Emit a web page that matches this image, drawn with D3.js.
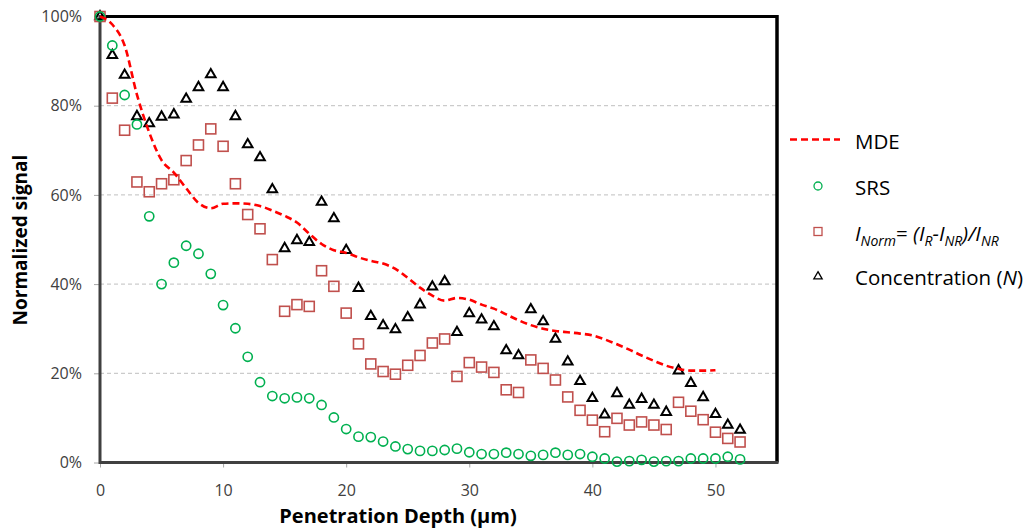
<!DOCTYPE html>
<html><head><meta charset="utf-8">
<script src="https://cdn.jsdelivr.net/npm/d3@7"></script>
<style>body{margin:0;background:#fff}svg{display:block}text{font-family:"Open Sans",sans-serif}</style>
</head><body><svg id="c" width="1034" height="532"></svg>
<script>
const depth = d3.range(0, 53);
const srs = [100,93.5,82.4,75.8,55.2,40,44.8,48.6,46.8,42.3,35.3,30.1,23.7,18,14.9,14.4,14.6,14.4,12.9,10.1,7.5,5.8,5.7,4.7,3.6,3.0,2.6,2.6,2.8,3.1,2.3,1.9,1.9,2.2,1.9,1.5,1.7,2.2,1.7,1.9,1.3,0.9,0.2,0.3,0.6,0.2,0.3,0.3,0.9,0.9,0.9,1.3,0.7];
const iNorm = [100,81.7,74.5,62.9,60.7,62.5,63.4,67.7,71.2,74.8,70.9,62.5,55.6,52.4,45.5,33.9,35.4,35,43,39.5,33.5,26.6,22.1,20.4,19.8,21.8,24,26.8,27.7,19.3,22.4,21.4,20.2,16.3,15.7,23,21.1,18.5,14.7,11.7,9.5,6.9,9.9,8.4,9.1,8.4,7.4,13.5,11.5,9.6,6.8,5.4,4.6];
const conc = [100,91.3,86.9,77.6,76,77.5,78,81.5,84.1,87,84.1,77.6,71.3,68.4,61.2,48,49.8,49.4,58.4,54.7,47.6,39.1,32.8,30.7,29.8,32.5,35.4,39.4,40.6,29.2,33.4,32,30.5,25.1,24,34.3,31.6,27.7,22.6,18.2,14.4,10.7,15.5,12.9,14.2,12.9,11.3,20.6,17.8,14.6,10.8,8.4,7.3];
const mdeDepth = d3.range(0, 51);
const mde = [100,98.2,93.5,82.5,74,67.8,65,61.5,58.2,57,58,58.1,58,57.5,56.5,55.3,53.8,51.3,49,47.6,47,46,45.2,44.6,43.4,41.4,39.2,37.4,36.3,36.9,36.5,35.4,34.5,33.2,31.9,30.8,30,29.5,29.2,28.9,28.5,27.6,26.5,25.3,24,22.8,21.7,21,20.6,20.6,20.7];
const xTicks = [0,10,20,30,40,50];
const yTicks = [0,20,40,60,80,100];

const svg = d3.select("#c");
const x = d3.scaleLinear().domain([0,55]).range([100,777]);
const y = d3.scaleLinear().domain([0,100]).range([462.5,16.5]);

// grid
svg.append("g").selectAll("line").data(yTicks.filter(v=>v>0&&v<100)).join("line")
  .attr("x1",x(0)).attr("x2",x(55)).attr("y1",d=>y(d)).attr("y2",d=>y(d))
  .attr("stroke","#bfbfbf").attr("stroke-width",1).attr("stroke-dasharray","4,3");

// axes
const yAxis = svg.append("g").attr("transform",`translate(${x(0)},0)`)
  .call(d3.axisLeft(y).tickValues(yTicks).tickFormat(d=>d+"%").tickSize(6).tickPadding(12));
const xAxis = svg.append("g").attr("transform",`translate(0,${y(0)})`)
  .call(d3.axisBottom(x).tickValues(xTicks).tickSize(5).tickPadding(17));
[yAxis,xAxis].forEach(a=>{
  a.select(".domain").remove();
  a.selectAll(".tick line").attr("stroke","#a6a6a6");
  a.selectAll(".tick text").attr("fill","#404040").style("font-size","16px").style("font-family","Open Sans");
});
// frame
svg.append("line").attr("x1",x(0)).attr("x2",x(55)).attr("y1",y(100)).attr("y2",y(100)).attr("stroke","#000").attr("stroke-width",3);
svg.append("line").attr("x1",x(55)).attr("x2",x(55)).attr("y1",y(100)-1.5).attr("y2",y(0)).attr("stroke","#000").attr("stroke-width",3.5);
svg.append("line").attr("x1",x(0)).attr("x2",x(0)).attr("y1",y(100)-1.5).attr("y2",y(0)+1.5).attr("stroke","#404040").attr("stroke-width",3);
svg.append("line").attr("x1",x(0)).attr("x2",x(55)+1.5).attr("y1",y(0)).attr("y2",y(0)).attr("stroke","#404040").attr("stroke-width",3);

// markers
const tri = d3.symbol().type(d3.symbolTriangle).size(40);
svg.append("g").selectAll("path").data(depth).join("path")
  .attr("d",tri).attr("transform",(d,i)=>`translate(${x(d)},${y(conc[i])})`)
  .attr("fill","none").attr("stroke","#000").attr("stroke-width",2);
svg.append("g").selectAll("rect").data(depth).join("rect")
  .attr("x",(d)=>x(d)-5).attr("y",(d,i)=>y(iNorm[i])-5).attr("width",10).attr("height",10)
  .attr("fill","none").attr("stroke","#c0504d").attr("stroke-width",1.6);
svg.append("g").selectAll("circle").data(depth).join("circle")
  .attr("cx",d=>x(d)).attr("cy",(d,i)=>y(srs[i])).attr("r",4.6)
  .attr("fill","none").attr("stroke","#00b050").attr("stroke-width",1.6);

// MDE line
const line = d3.line().x((d,i)=>x(mdeDepth[i])).y(d=>y(d)).curve(d3.curveMonotoneX);
svg.append("path").datum(mde).attr("d",line).attr("fill","none")
  .attr("stroke","#ff0000").attr("stroke-width",2.6).attr("stroke-dasharray","7,4");

// axis titles
svg.append("text").attr("x",398).attr("y",523).attr("text-anchor","middle")
  .style("font-size","20px").style("font-weight","bold").attr("fill","#000").text("Penetration Depth (µm)");
svg.append("text").attr("transform","translate(27,240) rotate(-90)").attr("text-anchor","middle")
  .style("font-size","19px").style("font-weight","bold").attr("fill","#000").text("Normalized signal");

// legend
const lg = svg.append("g");
const lx = 818, tx = 855, fs = "20.5px";
lg.append("line").attr("x1",790).attr("x2",840).attr("y1",139.5).attr("y2",139.5)
  .attr("stroke","#ff0000").attr("stroke-width",2.6).attr("stroke-dasharray","7,4");
lg.append("circle").attr("cx",lx).attr("cy",186).attr("r",4).attr("fill","none").attr("stroke","#00b050").attr("stroke-width",1.3);
lg.append("rect").attr("x",lx-4).attr("y",227.5).attr("width",8).attr("height",8).attr("fill","none").attr("stroke","#c0504d").attr("stroke-width",1.3);
lg.append("path").attr("d",d3.symbol().type(d3.symbolTriangle).size(30)).attr("transform",`translate(${lx},276.5)`)
  .attr("fill","none").attr("stroke","#000").attr("stroke-width",1.3);
lg.append("text").attr("x",tx).attr("y",149).style("font-size",fs).attr("fill","#000").text("MDE");
lg.append("text").attr("x",tx).attr("y",195).style("font-size",fs).attr("fill","#000").text("SRS");
const t3 = lg.append("text").attr("x",tx).attr("y",241).style("font-size",fs).attr("fill","#000");
const parts = [["I",0,true],["Norm",1,true],["= ",0,false],["(I",0,true],["R",1,true],["-I",0,true],["NR",1,true],[")/I",0,true],["NR",1,true]];
parts.forEach(([s,sub,it],i)=>{
  const prev = i>0?parts[i-1][1]:0;
  const sp = t3.append("tspan").text(s).style("font-style",it?"italic":"normal")
    .attr("dy",(sub?5:0)-(prev?5:0));
  if(sub) sp.style("font-size","14px");
});
const t4 = lg.append("text").attr("x",tx).attr("y",285).style("font-size",fs).attr("fill","#000");
t4.append("tspan").text("Concentration (");
t4.append("tspan").text("N").style("font-style","italic");
t4.append("tspan").text(")");
</script></body></html>
